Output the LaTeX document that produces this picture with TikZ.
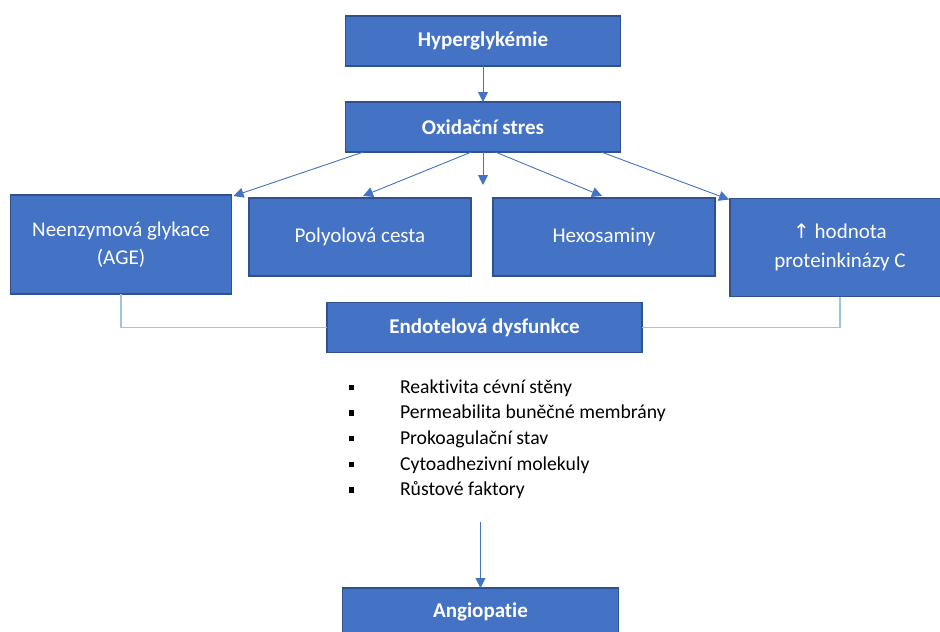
\documentclass[tikz,border=0pt]{standalone}
\usepackage{fontspec}
\setmainfont[Ligatures=NoCommon]{Carlito}
\newfontfamily\symfont{DejaVu Sans}
\usetikzlibrary{calc,arrows.meta}

\definecolor{boxblue}{HTML}{4472C4}
\definecolor{boxedge}{HTML}{2F528F}
\definecolor{linkblue}{HTML}{9DC3E6}

\begin{document}
\begin{tikzpicture}[x=1pt,y=-1pt,every node/.style={outer sep=0pt}]
\tikzset{
    box/.style  = {draw=boxedge,line width=1.2pt,fill=boxblue,text=white,inner sep=0pt,
                    font=\fontsize{21}{28.3}\selectfont,align=center},
    head/.style = {box,font=\fontsize{21}{28.3}\selectfont\bfseries},
    flow/.style = {boxblue,line width=0.9pt,-{Triangle[length=10pt,width=10pt]}},
    link/.style = {linkblue,line width=1.3pt},
    item/.style = {anchor=base west,inner sep=0pt,font=\fontsize{19.7}{24}\selectfont}
}

\useasboundingbox (0,0) rectangle (940,632);

%% top of the chain
\node (hyper) [head,minimum width=275,minimum height=50] at (483,41) {Hyperglykémie};
\node (oxid) [head,minimum width=275,minimum height=50] at (483,127) {Oxidační stres};

%% the four pathways
\node (age) [box,minimum width=221,minimum height=99] at (121,244.5) {Neenzymová glykace\\(AGE)};
\node (polyol) [box,minimum width=222,minimum height=78] at (360,237) {Polyolová cesta};
\node (hexo) [box,minimum width=222,minimum height=78] at (604,237) {Hexosaminy};
\node (pkc) [box,minimum width=220,minimum height=98] at (840,247.5) {{\symfont\fontsize{20}{28.3}\selectfont ↑} hodnota\\proteinkinázy C};

\node (endo) [head,minimum width=315,minimum height=50] at (484.5,327.3) {Endotelová dysfunkce};
\node (angio) [head,minimum width=276,minimum height=48] at (480.5,612) {Angiopatie};

%% arrows
\draw [flow] (hyper) -- (oxid);
\draw [flow] ($(oxid.south west)!0.065!(oxid.south east)$) -- ($(age.north east)+(2,1)$);
\draw [flow] ($(oxid.south west)!0.458!(oxid.south east)$) -- ($(polyol.north)+(3,-2)$);
\draw [flow] (oxid.south) -- ++(0,33) coordinate (mid);
\draw [flow] ($(oxid.south west)!0.545!(oxid.south east)$) -- ($(hexo.north)+(-2,-2)$);
\draw [flow] ($(oxid.south west)!0.93!(oxid.south east)$) -- ($(pkc.north west)+(-1,1)$);

%% links into the dysfunction box
\draw [link] (age.south) |- (endo.west);
\draw [link] (pkc.south) |- (endo.east);

%% list of consequences
\foreach \t [count=\i] in {Reaktivita cévní stěny,Permeabilita buněčné membrány,
        Prokoagulační stav,Cytoadhezivní molekuly,Růstové faktory}{
    \node (item\i) [item] at (400,{380+25.7*(\i-1)+13}) {\t};
    \fill (348.5,{380+25.7*(\i-1)+4.5}) rectangle ++(5,5.5);
}

\coordinate (tail) at (480.5,522);
\draw [flow] (tail) -- (angio.north);

\end{tikzpicture}
\end{document}
